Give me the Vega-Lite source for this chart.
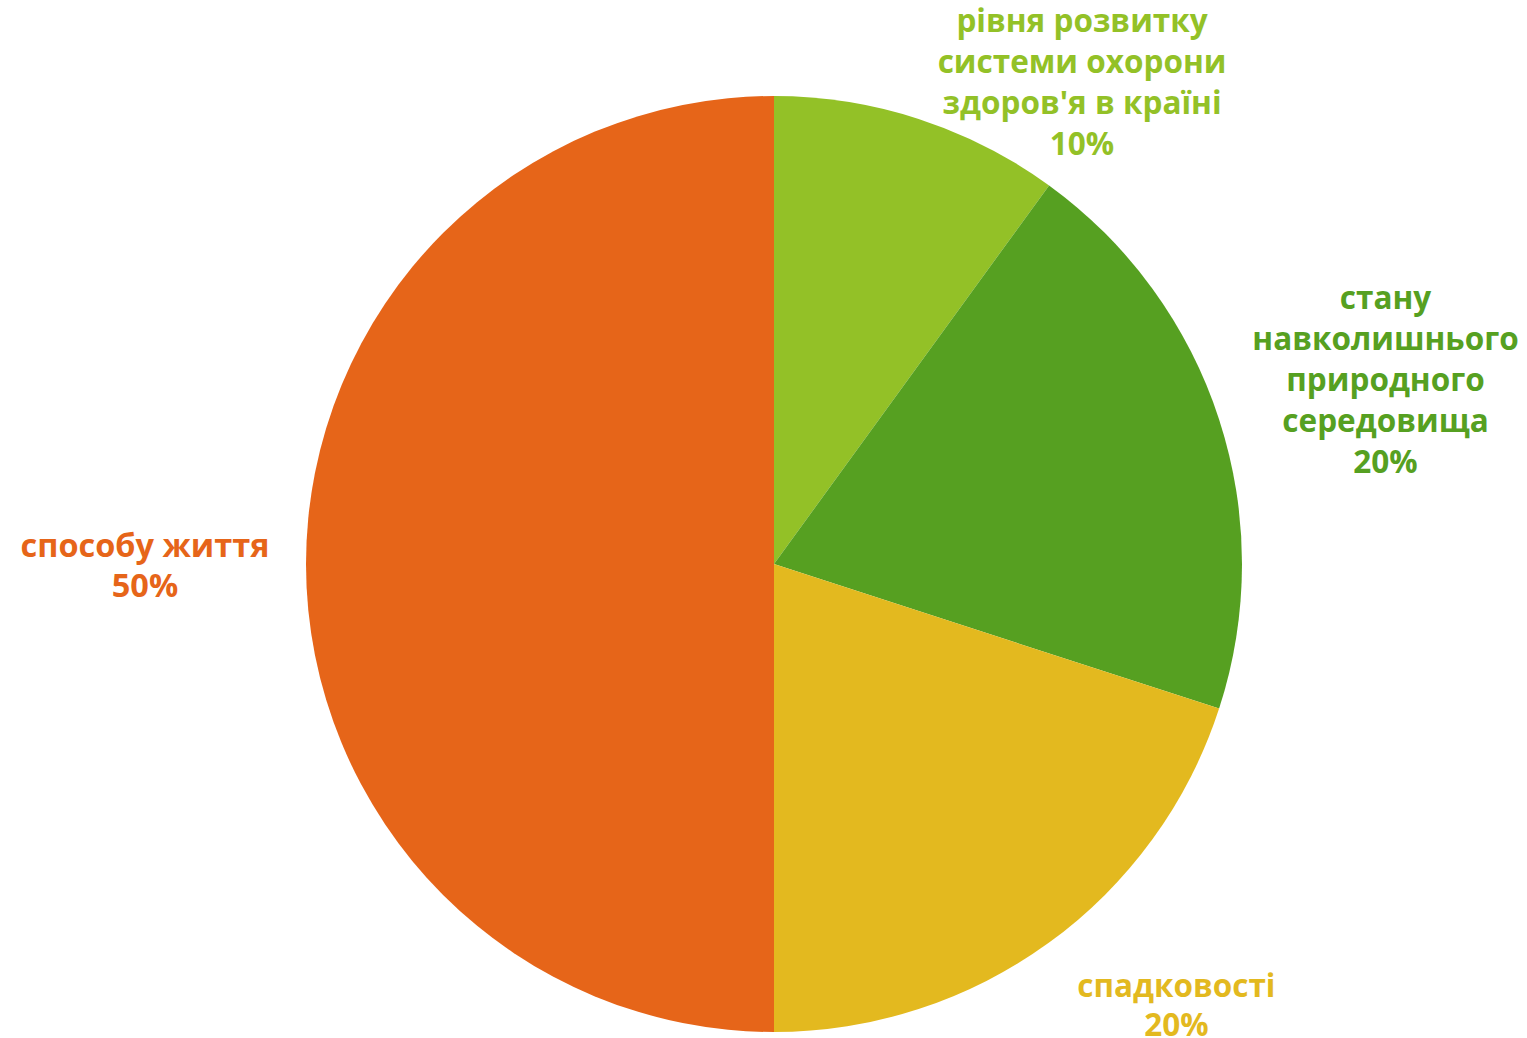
{
  "$schema": "https://vega.github.io/schema/vega-lite/v6.json",
  "width": 1506,
  "height": 948,
  "autosize": {"type": "none"},
  "padding": {"left": 21, "top": 90, "right": 0, "bottom": 0},
  "background": "white",
  "view": {"stroke": null},
  "data": {
    "values": [
      {"rank": 1, "cat": "рівня розвитку системи охорони здоров'я в країні", "label": "рівня розвитку\nсистеми охорони\nздоров'я в країні\n10%", "value": 10},
      {"rank": 2, "cat": "стану навколишнього природного середовища", "label": "стану\nнавколишнього\nприродного\nсередовища\n20%", "value": 20},
      {"rank": 3, "cat": "спадковості", "label": "спадковості\n20%", "value": 20},
      {"rank": 4, "cat": "способу життя", "label": "способу життя\n50%", "value": 50}
    ]
  },
  "encoding": {
    "theta": {"field": "value", "type": "quantitative", "stack": true},
    "order": {"field": "rank", "type": "quantitative"},
    "color": {
      "field": "cat",
      "type": "nominal",
      "legend": null,
      "scale": {
        "domain": ["рівня розвитку системи охорони здоров'я в країні", "стану навколишнього природного середовища", "спадковості", "способу життя"],
        "range": ["#93C127", "#56A021", "#E3B91F", "#E66519"]
      }
    }
  },
  "layer": [
    {"mark": {"type": "arc", "outerRadius": 468}},
    {
      "mark": {"type": "text", "radius": 505, "dx": 152, "dy": -61, "align": "center", "baseline": "middle", "lineBreak": "\n", "font": "Open Sans", "fontWeight": "bold", "fontSize": 31.5, "lineHeight": 41},
      "encoding": {"text": {"condition": {"test": "datum.rank === 1", "field": "label"}, "value": ""}}
    },
    {
      "mark": {"type": "text", "radius": 643, "dy": -65, "align": "center", "baseline": "middle", "lineBreak": "\n", "font": "Open Sans", "fontWeight": "bold", "fontSize": 31.5, "lineHeight": 41},
      "encoding": {"text": {"condition": {"test": "datum.rank === 2", "field": "label"}, "value": ""}}
    },
    {
      "mark": {"type": "text", "radius": 545, "dx": 82, "dy": -17, "align": "center", "baseline": "middle", "lineBreak": "\n", "font": "Open Sans", "fontWeight": "bold", "fontSize": 31.5, "lineHeight": 39},
      "encoding": {"text": {"condition": {"test": "datum.rank === 3", "field": "label"}, "value": ""}}
    },
    {
      "mark": {"type": "text", "radius": 629, "dy": -17, "align": "center", "baseline": "middle", "lineBreak": "\n", "font": "Open Sans", "fontWeight": "bold", "fontSize": 32.5, "lineHeight": 40},
      "encoding": {"text": {"condition": {"test": "datum.rank === 4", "field": "label"}, "value": ""}}
    }
  ]
}
